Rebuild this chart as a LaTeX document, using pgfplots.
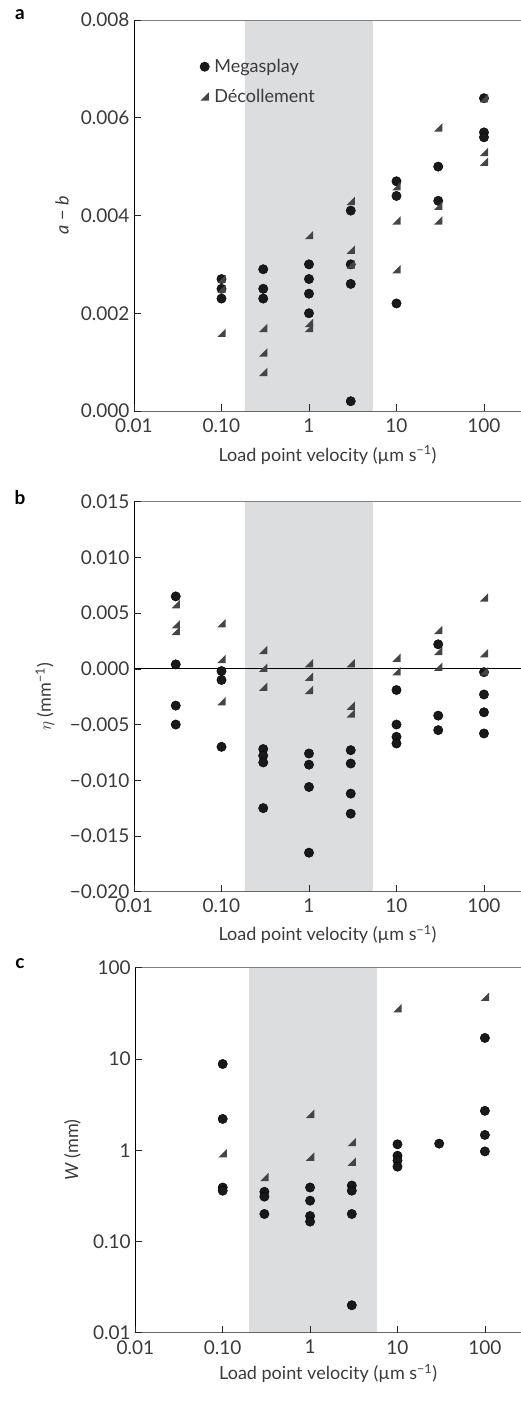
\documentclass[border=0pt]{standalone}
\usepackage{fontspec}
\setmainfont{Lato}
\usepackage{pgfplots}
\pgfplotsset{compat=1.18}
\definecolor{shadecol}{HTML}{DCDDDF}
\definecolor{tricol}{HTML}{454545}
\definecolor{txtcol}{HTML}{3A3A3A}
\definecolor{spinecol}{HTML}{808080}

\pgfdeclareplotmark{rtri}{%
  \pgfpathmoveto{\pgfqpoint{-\pgfplotmarksize}{-\pgfplotmarksize}}%
  \pgfpathlineto{\pgfqpoint{\pgfplotmarksize}{-\pgfplotmarksize}}%
  \pgfpathlineto{\pgfqpoint{\pgfplotmarksize}{\pgfplotmarksize}}%
  \pgfpathclose\pgfusepathqfill}

\pgfplotsset{
  every axis/.append style={
    scale only axis, xmode=log, xmin=0.01, scaled ticks=false,
    xtick={0.01,0.1,1,10,100}, xticklabels={0.01,0.10,1,10,100},
    xminorticks=false, yminorticks=false,
    axis line style={draw=none}, axis on top,
    tick align=inside, major tick length=7pt, tick pos=left,
    tick style={black!85, line width=0.6pt},
    xticklabel style={font=\fontsize{19}{22}\selectfont, text=txtcol, yshift=-4pt},
    yticklabel style={font=\fontsize{19}{22}\selectfont, text=txtcol, xshift=-1pt},
    xlabel={Load point velocity (µm s\textsuperscript{−1})},
    xlabel style={at={(rel axis cs:0.5,0)}, anchor=center, font=\fontsize{18}{21}\selectfont, text=txtcol},
    ylabel style={anchor=center, font=\fontsize{18}{21}\selectfont, text=txtcol},
    clip=false,
  },
}

\begin{document}
\begin{tikzpicture}[x=1pt,y=1pt]
\useasboundingbox (0,0) rectangle (521,1420);
\node[font=\fontsize{19}{22}\selectfont\bfseries, text=black] at (20,1405) {a};
\node[font=\fontsize{19}{22}\selectfont\bfseries, text=black] at (20,922) {b};
\node[font=\fontsize{19}{22}\selectfont\bfseries, text=black] at (20,456) {c};

% ---------- panel a ----------
\begin{axis}[at={(134pt,1009pt)}, anchor=south west,
  width=387pt, height=391pt, xmax=265,
  ymin=0, ymax=0.008, ytick={0,0.002,0.004,0.006,0.008},
  yticklabels={0.000,0.002,0.004,0.006,0.008},
  ylabel={\textit{a} − \textit{b}},
  ylabel style={at={(rel axis cs:-0.186,0.5)}},
  xlabel style={yshift=-44pt},
  legend style={draw=none, fill=none, at={(rel axis cs:0.170,0.905)}, anchor=north west,
    font=\fontsize{18}{21}\selectfont, text=txtcol, row sep=11pt, column sep=3pt, inner sep=0pt},
  legend cell align=left]
\fill[fill=shadecol] (axis cs:0.186,0) rectangle (axis cs:5.4,0.008);
\addplot[only marks, mark=*, mark size=4.7pt, mark options={fill=black!90, draw=none}] coordinates {
 (0.1,0.0027) (0.1,0.0025) (0.1,0.0023)
 (0.3,0.0029) (0.3,0.0025) (0.3,0.0023)
 (1,0.0030) (1,0.0027) (1,0.0024) (1,0.0020)
 (3,0.0041) (3,0.0030) (3,0.0026) (3,0.0002)
 (10,0.0047) (10,0.0044) (10,0.0022)
 (30,0.0050) (30,0.0043)
 (100,0.0064) (100,0.0057) (100,0.0056)};
\addlegendentry{Megasplay}
\addplot[only marks, mark=rtri, mark size=4.2pt, mark options={fill=tricol, draw=none}] coordinates {
 (0.1,0.0027) (0.1,0.0025) (0.1,0.0016)
 (0.3,0.0017) (0.3,0.0012) (0.3,0.0008)
 (1,0.0036) (1,0.0018) (1,0.0017)
 (3,0.0043) (3,0.0033) (3,0.0030)
 (10,0.0046) (10,0.0039) (10,0.0029)
 (30,0.0058) (30,0.0042) (30,0.0039)
 (100,0.0064) (100,0.0053) (100,0.0051)};
\addlegendentry{Décollement}
\draw[spinecol, line width=0.7pt] (rel axis cs:0,1) -- (rel axis cs:1,1);
\draw[spinecol!80!black, line width=0.7pt] (rel axis cs:0,0) -- (rel axis cs:1,0);
\draw[black, line width=0.7pt] (rel axis cs:0,0) -- (rel axis cs:0,1);
\end{axis}

% ---------- panel b ----------
\begin{axis}[at={(134pt,528.3pt)}, anchor=south west,
  width=387pt, height=390pt, xmax=265,
  ymin=-0.020, ymax=0.015, ytick={-0.02,-0.015,-0.01,-0.005,0,0.005,0.01,0.015},
  yticklabels={−0.020,−0.015,−0.010,−0.005,0.000,0.005,0.010,0.015},
  ylabel={$\eta$ (mm\textsuperscript{−1})},
  ylabel style={at={(rel axis cs:-0.23,0.5)}},
  xlabel style={yshift=-43pt}]
\fill[fill=shadecol] (axis cs:0.186,-0.020) rectangle (axis cs:5.4,0.015);
\draw[black, line width=1.1pt] (rel axis cs:0,0.5714) -- (rel axis cs:1,0.5714);
\addplot[only marks, mark=*, mark size=4.7pt, mark options={fill=black!90, draw=none}] coordinates {
 (0.03,0.0065) (0.03,0.0004) (0.03,-0.0033) (0.03,-0.0050)
 (0.1,-0.0002) (0.1,-0.0010) (0.1,-0.0070)
 (0.3,-0.0072) (0.3,-0.0078) (0.3,-0.0084) (0.3,-0.0125)
 (1,-0.0076) (1,-0.0086) (1,-0.0106) (1,-0.0165)
 (3,-0.0073) (3,-0.0085) (3,-0.0112) (3,-0.0130)
 (10,-0.0019) (10,-0.0050) (10,-0.0061) (10,-0.0067)
 (30,0.0022) (30,-0.0042) (30,-0.0055)
 (100,-0.0003) (100,-0.0023) (100,-0.0039) (100,-0.0058)};
\addplot[only marks, mark=rtri, mark size=4.2pt, mark options={fill=tricol, draw=none}] coordinates {
 (0.03,0.0058) (0.03,0.0040) (0.03,0.0034)
 (0.1,0.0041) (0.1,0.0009) (0.1,-0.0029)
 (0.3,0.0017) (0.3,0.0001) (0.3,-0.0016)
 (1,0.0005) (1,-0.0007) (1,-0.0019)
 (3,0.0005) (3,-0.0033) (3,-0.0040)
 (10,0.0010) (10,-0.0002)
 (30,0.0035) (30,0.0016) (30,0.0002)
 (100,0.0064) (100,0.0014) (100,-0.0002)};
\draw[spinecol, line width=0.7pt] (rel axis cs:0,1) -- (rel axis cs:1,1);
\draw[spinecol!80!black, line width=0.7pt] (rel axis cs:0,0) -- (rel axis cs:1,0);
\draw[black, line width=0.7pt] (rel axis cs:0,0) -- (rel axis cs:0,1);
\end{axis}

% ---------- panel c ----------
\begin{axis}[at={(135.3pt,87.3pt)}, anchor=south west,
  width=385.7pt, height=365pt, xmax=259,
  ymode=log, ymin=0.01, ymax=100, ytick={0.01,0.1,1,10,100},
  yticklabels={0.01,0.10,1,10,100},
  ylabel={\textit{W} (mm)},
  ylabel style={at={(rel axis cs:-0.163,0.5)}},
  xlabel style={yshift=-41pt}]
\fill[fill=shadecol] (axis cs:0.2,0.01) rectangle (axis cs:5.9,100);
\addplot[only marks, mark=*, mark size=4.7pt, mark options={fill=black!90, draw=none}] coordinates {
 (0.1,8.8) (0.1,2.2) (0.1,0.39) (0.1,0.36)
 (0.3,0.35) (0.3,0.31) (0.3,0.20)
 (1,0.39) (1,0.28) (1,0.19) (1,0.165)
 (3,0.41) (3,0.36) (3,0.20) (3,0.02)
 (10,1.16) (10,0.87) (10,0.77) (10,0.66)
 (30,1.18)
 (100,17) (100,2.7) (100,1.47) (100,0.97)};
\addplot[only marks, mark=rtri, mark size=4.2pt, mark options={fill=tricol, draw=none}] coordinates {
 (0.1,0.93) (0.3,0.51) (1,2.5) (1,0.85) (3,1.23) (3,0.75) (10,36) (100,48)};
\draw[spinecol, line width=0.7pt] (rel axis cs:0,1) -- (rel axis cs:1,1);
\draw[spinecol!80!black, line width=0.7pt] (rel axis cs:0,0) -- (rel axis cs:1,0);
\draw[black, line width=0.7pt] (rel axis cs:0,0) -- (rel axis cs:0,1);
\end{axis}
\end{tikzpicture}
\end{document}
